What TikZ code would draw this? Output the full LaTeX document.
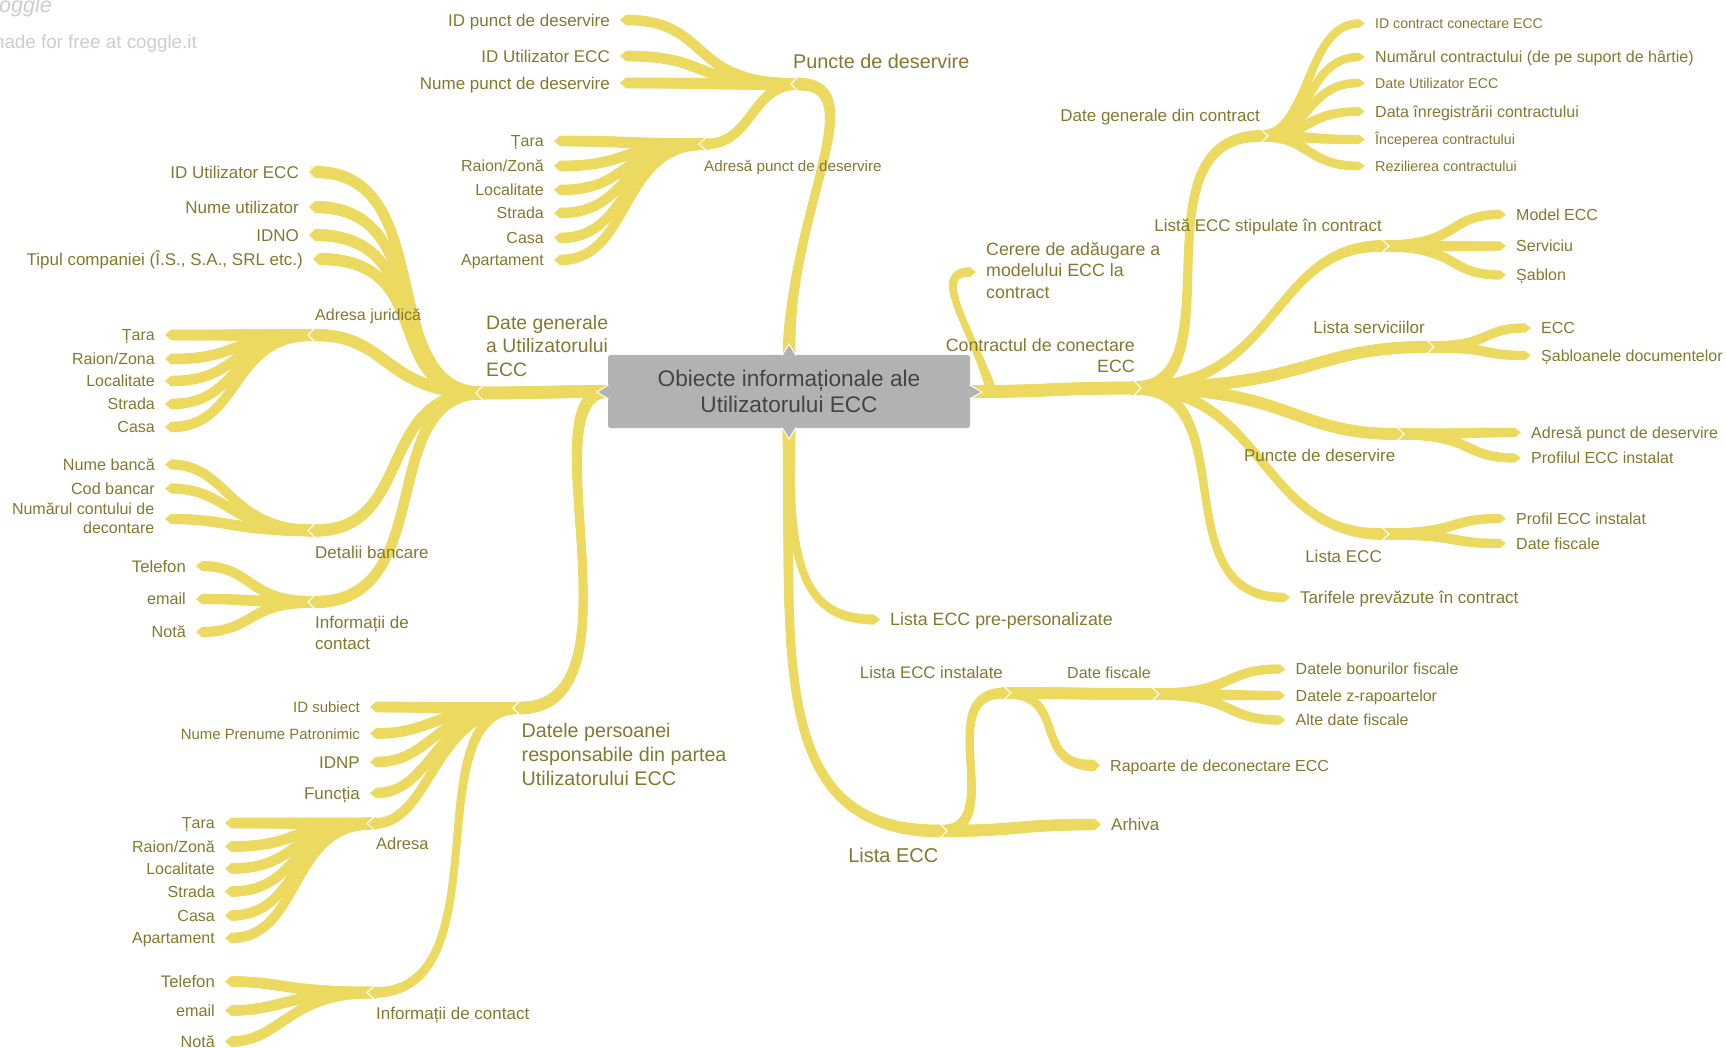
\documentclass[tikz,border=0pt]{standalone}
\usepackage{fontspec}
\setmainfont{Liberation Sans}
\usetikzlibrary{calc,decorations.markings}
\pgfdeclarelayer{bg}\pgfsetlayers{bg,main}
\definecolor{brn}{HTML}{ECD960}
\definecolor{txt}{HTML}{837830}
\definecolor{rootc}{HTML}{B2B2B2}
\definecolor{roott}{HTML}{444444}
\definecolor{wm}{HTML}{CCCCCC}
\newcommand\tapermark{%
 \pgfmathsetmacro\tsv{\pgfkeysvalueof{/pgf/decoration/mark info/distance from start}/\pgfdecoratedpathlength}%
 \pgfmathsetmacro\trv{(\brWa*(1-\tsv)+\brWb*\tsv)/2*(1-\dipv*4*\tsv*(1-\tsv))}%
 \pgfpathcircle{\pgfpointorigin}{\trv pt}\pgfsetfillcolor{brn}\pgfusepath{fill}}
\tikzset{
 taper/.style={draw=brn,postaction={decorate},decoration={markings,mark=between positions 0 and 1 step 2pt with {\tapermark}}},
 lbl/.style={text=txt,inner sep=0pt},
 fz/.style={font=\fontsize{#1}{#1}\selectfont},
 ml/.style={text=txt,inner sep=0pt,font=\pgfmathsetmacro\lsk{#1*1.2}\fontsize{#1}{\lsk}\selectfont},
 rootbox/.style={fill=rootc,rounded corners=2.5pt,minimum width=362pt,minimum height=73pt,inner sep=0pt,text=roott,align=center,font=\fontsize{22.6}{26.5}\selectfont},
 rtip/.style={fill=rootc,draw=white,line width=1pt,line join=miter},
}
% current branch look: start share, end share, width at start, width at end
\newcommand\setbr[4]{\def\brFa{#1}\def\brFb{#2}\def\brWa{#3}\def\brWb{#4}}
\newcommand\brtip[2]{% #1 end, #2 sign
 \pgfmathsetmacro\hw{\brWb/2+.4}%
 \fill[brn] ([yshift=\hw pt]#1) -- ([xshift={#2*7pt}]#1) -- ([yshift=-\hw pt]#1) -- cycle;
 \draw[white,line width=1.1pt] ([yshift={\hw*1.2pt},xshift={-#2*1pt}]#1) -- ([xshift={#2*7pt}]#1) -- ([yshift={-\hw*1.2pt},xshift={-#2*1pt}]#1);
}
\newcommand\getdip{%
 \pgfmathsetmacro\dipv{.3*abs(\by-\ay)/(abs(\bx-\ax)+abs(\by-\ay)+1)}%
 \pgfmathsetmacro\wl{min(\brWa,\brWb)*(1-\dipv)-1}}
\newcommand\br[2]{% parent to child, horizontal tangents
 \path (#1);\pgfgetlastxy{\ax}{\ay}\path (#2);\pgfgetlastxy{\bx}{\by}\getdip
 \pgfmathsetmacro\ca{\ax+\brFa*(\bx-\ax)}\pgfmathsetmacro\cb{\bx-\brFb*(\bx-\ax)}%
 \pgfmathsetmacro\sg{\bx>\ax?1:-1}%
 \draw[taper,line width=\wl pt] (#1) .. controls (\ca pt,\ay) and (\cb pt,\by) .. (#2);
 \brtip{#2}{\sg}}
\newcommand\brc[5]{% parent to child, given controls and tip direction
 \path (#1);\pgfgetlastxy{\ax}{\ay}\path (#2);\pgfgetlastxy{\bx}{\by}\getdip
 \pgfmathsetmacro\dipv{max(\dipv,.28)}\pgfmathsetmacro\wl{min(\brWa,\brWb)*(1-\dipv)-1}%
 \draw[taper,line width=\wl pt] (#1) .. controls #3 and #4 .. (#2);
 \brtip{#2}{#5}}
\newcommand\lfl[5]{\coordinate (#1) at (#2,#3);
 \node[lbl,fz=#4,anchor=east,text height={#4*.74pt},text depth={#4*.2pt}] (#1t) at ($(#1)+(-16,1.5)$) {#5};}
\newcommand\lfr[5]{\coordinate (#1) at (#2,#3);
 \node[lbl,fz=#4,anchor=west,text height={#4*.74pt},text depth={#4*.2pt}] (#1t) at ($(#1)+(16,1.2)$) {#5};}
\begin{document}
\begin{tikzpicture}[x=1pt,y=-1pt]
\useasboundingbox (0,0) rectangle (1726,1048);
\clip (0,0) rectangle (1726,1048);
% watermark
\node[anchor=east,inner sep=0pt,text=wm,font=\fontsize{21.5}{21.5}\selectfont\itshape] (wma) at (52,7) {coggle};
\node[anchor=east,inner sep=0pt,text=wm,font=\fontsize{18.8}{18.8}\selectfont] (wmb) at (197,44) {made for free at coggle.it};
% root
\node[rootbox] (root) at (789,391.5) {Obiecte informaționale ale\\Utilizatorului ECC};
\coordinate (rt) at (789,344); \coordinate (rb) at (789,439);
\coordinate (rl) at (597,392); \coordinate (rr) at (982,392);
\draw[rtip] (782,355.5) -- (rt) -- (796,355.5);
\draw[rtip] (782,427.5) -- (rb) -- (796,427.5);
\draw[rtip] (608.5,385) -- (rl) -- (608.5,399);
\draw[rtip] (969.5,385) -- (rr) -- (969.5,399);
% junctions with their labels
\coordinate (jpd) at (798,84);
\node[lbl,fz=19.8,anchor=west] (jpdt) at (793,61) {Puncte de deservire};
\coordinate (jap) at (706,144);
\node[lbl,fz=15.2,anchor=west] (japt) at (704,167) {Adresă punct de deservire};
\coordinate (jdg) at (483,393);
\node[ml=19.4,anchor=west,align=left] (jdgt) at (486,346) {Date generale\\a Utilizatorului\\ECC};
\coordinate (jaj) at (315,335);
\node[lbl,fz=16,anchor=west] (jajt) at (315,316) {Adresa juridică};
\coordinate (jdb) at (315,530.5);
\node[lbl,fz=17,anchor=west] (jdbt) at (315,552) {Detalii bancare};
\coordinate (jic) at (315,602);
\node[ml=17,anchor=west,align=left] (jict) at (315,633) {Informații de\\contact};
\coordinate (jdp) at (520,708);
\node[ml=19.7,anchor=west,align=left] (jdpt) at (521.5,754.5) {Datele persoanei\\responsabile din partea\\Utilizatorului ECC};
\coordinate (ja) at (374,823.5);
\node[lbl,fz=16.5,anchor=west] (jat) at (376,843.5) {Adresa};
\coordinate (jc) at (374,992.5);
\node[lbl,fz=17,anchor=west] (jct) at (376,1015) {Informații de contact};
\coordinate (jcc) at (1134,388);
\node[ml=17.8,anchor=east,align=right] (jcct) at (1135,355.5) {Contractul de conectare\\ECC};
\coordinate (jgc) at (1261,136);
\node[lbl,fz=17,anchor=east] (jgct) at (1260,117) {Date generale din contract};
\coordinate (jls) at (1382,246);
\node[lbl,fz=16.9,anchor=east] (jlst) at (1382,227.5) {Listă ECC stipulate în contract};
\coordinate (jlse) at (1427,347);
\node[lbl,fz=17,anchor=east] (jlset) at (1425,327) {Lista serviciilor};
\coordinate (jpdv) at (1397,434);
\node[lbl,fz=17,anchor=east] (jpdvt) at (1395.5,455) {Puncte de deservire};
\coordinate (jle) at (1382,534);
\node[lbl,fz=17,anchor=east] (jlet) at (1382,556) {Lista ECC};
\coordinate (jl) at (940,831);
\node[lbl,fz=20,anchor=east] (jlt) at (938.5,855) {Lista ECC};
\coordinate (jli) at (1004,693);
\node[lbl,fz=16.8,anchor=east] (jlit) at (1003,672) {Lista ECC instalate};
\coordinate (jdf) at (1152,694);
\node[lbl,fz=16,anchor=east] (jdft) at (1151,673) {Date fiscale};
\coordinate (cs) at (992,392);
% cerere leaf
\coordinate (cer) at (970,272);
\node[ml=17.8,anchor=west,align=left] (cert) at (986,270.5) {Cerere de adăugare a\\modelului ECC la\\contract};
% leaves
\lfl{a1}{626}{20}{17}{ID punct de deservire}
\lfl{a2}{626}{56}{17}{ID Utilizator ECC}
\lfl{a3}{626}{83}{17}{Nume punct de deservire}
\lfl{b1}{560}{141}{16}{Țara}
\lfl{b2}{560}{166}{16}{Raion/Zonă}
\lfl{b3}{560}{190}{16}{Localitate}
\lfl{b4}{560}{213}{16}{Strada}
\lfl{b5}{560}{238}{16}{Casa}
\lfl{b6}{560}{260}{16}{Apartament}
\lfl{c1}{315}{172}{17}{ID Utilizator ECC}
\lfl{c2}{315}{207}{17}{Nume utilizator}
\lfl{c3}{315}{235}{17}{IDNO}
\lfl{c4}{319}{259}{17}{Tipul companiei (Î.S., S.A., SRL etc.)}
\lfl{d1}{171}{335}{16}{Țara}
\lfl{d2}{171}{359}{16}{Raion/Zona}
\lfl{d3}{171}{381}{16}{Localitate}
\lfl{d4}{171}{404}{16}{Strada}
\lfl{d5}{171}{427}{16}{Casa}
\lfl{e1}{171}{464.5}{16.2}{Nume bancă}
\lfl{e2}{171}{488.5}{16.2}{Cod bancar}
\coordinate (e3) at (171,519);
\node[ml=16,anchor=east,align=right] (e3t) at (154.5,518.5) {Numărul contului de\\decontare};
\lfl{f1}{202}{566}{16.7}{Telefon}
\lfl{f2}{202}{599}{16.2}{email}
\lfl{f3}{202}{632}{16.2}{Notă}
\lfl{g1}{376}{707}{15}{ID subiect}
\lfl{g2}{376}{733.5}{14.9}{Nume Prenume Patronimic}
\lfl{g3}{376}{762}{17}{IDNP}
\lfl{g4}{376}{793}{17}{Funcția}
\lfl{h1}{231}{823}{16}{Țara}
\lfl{h2}{231}{846.5}{16}{Raion/Zonă}
\lfl{h3}{231}{868.5}{16}{Localitate}
\lfl{h4}{231}{891.5}{16}{Strada}
\lfl{h5}{231}{915.5}{16}{Casa}
\lfl{h6}{231}{938}{16}{Apartament}
\lfl{i1}{231}{981.5}{16.7}{Telefon}
\lfl{i2}{231}{1010.5}{16.2}{email}
\lfl{i3}{231}{1041.5}{16.2}{Notă}
\lfr{k1}{1359}{23.5}{14.1}{ID contract conectare ECC}
\lfr{k2}{1359}{57}{16.05}{Numărul contractului (de pe suport de hârtie)}
\lfr{k3}{1359}{83}{14.2}{Date Utilizator ECC}
\lfr{k4}{1359}{111.5}{16}{Data înregistrării contractului}
\lfr{k5}{1359}{139.5}{14.2}{Începerea contractului}
\lfr{k6}{1359}{166}{14.4}{Rezilierea contractului}
\lfr{l1}{1500}{214.5}{16}{Model ECC}
\lfr{l2}{1500}{246}{16}{Serviciu}
\lfr{l3}{1500}{275}{16}{Șablon}
\lfr{m1}{1525}{328}{16}{ECC}
\lfr{m2}{1525}{355.5}{16}{Șabloanele documentelor}
\lfr{n1}{1515}{432.5}{16}{Adresă punct de deservire}
\lfr{n2}{1515}{458}{16}{Profilul ECC instalat}
\lfr{o1}{1500}{518.5}{16}{Profil ECC instalat}
\lfr{o2}{1500}{543.5}{16}{Date fiscale}
\lfr{tar}{1284}{597.5}{17}{Tarifele prevăzute în contract}
\lfr{pre}{874}{619.5}{17.8}{Lista ECC pre-personalizate}
\lfr{ar}{1095}{824.5}{17}{Arhiva}
\lfr{ra}{1094}{765.5}{16}{Rapoarte de deconectare ECC}
\lfr{q1}{1279.5}{669}{16}{Datele bonurilor fiscale}
\lfr{q2}{1279.5}{695.5}{16}{Datele z-rapoartelor}
\lfr{q3}{1279.5}{720}{16}{Alte date fiscale}
\begin{pgfonlayer}{bg}
% deepest fans first, parents drawn after their children
\setbr{.6}{.5}{12}{11}
\br{jap}{b1}\br{jap}{b2}\br{jap}{b3}\br{jap}{b4}\br{jap}{b5}\br{jap}{b6}
\br{jaj}{d1}\br{jaj}{d2}\br{jaj}{d3}\br{jaj}{d4}\br{jaj}{d5}
\br{ja}{h1}\br{ja}{h2}\br{ja}{h3}\br{ja}{h4}\br{ja}{h5}\br{ja}{h6}
\setbr{.6}{.4}{12}{10.5}
\br{jdb}{e1}\br{jdb}{e2}\br{jdb}{e3}
\setbr{.6}{.45}{12}{10.5}
\br{jic}{f1}\br{jic}{f2}\br{jic}{f3}
\setbr{.6}{.35}{12}{11}
\br{jc}{i1}\br{jc}{i2}\br{jc}{i3}
\setbr{.5}{.55}{12}{9}
\br{jgc}{k1}\br{jgc}{k2}\br{jgc}{k3}\br{jgc}{k4}\br{jgc}{k5}\br{jgc}{k6}
\setbr{.65}{.45}{12}{9.5}
\br{jls}{l1}\br{jls}{l2}\br{jls}{l3}
\br{jlse}{m1}\br{jlse}{m2}
\br{jpdv}{n1}\br{jpdv}{n2}
\br{jle}{o1}\br{jle}{o2}
\br{jdf}{q1}\br{jdf}{q2}\br{jdf}{q3}
% second level
\setbr{.65}{.5}{12}{11}
\br{jpd}{a1}\br{jpd}{a2}\br{jpd}{a3}
\setbr{.5}{.5}{12}{11}
\br{jpd}{jap}
\setbr{.65}{.75}{13}{12.5}
\br{jdg}{c1}\br{jdg}{c2}\br{jdg}{c3}\br{jdg}{c4}\br{jdg}{jic}
\setbr{.65}{.6}{13}{12.5}
\br{jdg}{jdb}
\setbr{.6}{.45}{13}{12.5}
\br{jdg}{jaj}
\setbr{.6}{.4}{12}{11}
\br{jdp}{g1}\br{jdp}{g2}\br{jdp}{g3}\br{jdp}{g4}\br{jdp}{ja}
\brc{jdp}{jc}{(412,708)}{(506,992.5)}{-1}
% contract
\setbr{.5}{.5}{14}{12}
\brc{jcc}{jgc}{(1240,388)}{(1130,136)}{1}
\brc{jcc}{jls}{(1280,388)}{(1270,246)}{1}
\brc{jcc}{jle}{(1265,388)}{(1260,534)}{1}
\setbr{.6}{.4}{13}{12}
\br{jcc}{jlse}\br{jcc}{jpdv}
\setbr{.5}{.5}{14}{10}
\brc{jcc}{tar}{(1247,388)}{(1160,597.5)}{1}
% lower part
\setbr{.5}{.5}{12}{12}
\br{jli}{jdf}
\brc{jli}{ra}{(1070,693)}{(1030,765.5)}{1}
\setbr{.5}{.5}{12.5}{11.5}
\brc{jl}{jli}{(1010,831)}{(930,693)}{1}
\br{jl}{ar}
% from the root
\setbr{.5}{.5}{13}{13}
\brc{root.north}{jpd}{(789,210)}{(875,84)}{-1}
\br{root.west}{jdg}
\brc{root.west}{jdp}{(525,392)}{(650,708)}{-1}
\br{root.east}{jcc}
\brc{root.south}{jl}{(789,660)}{(770,831)}{1}
\setbr{.5}{.5}{13}{10.5}
\brc{root.south}{pre}{(789,560)}{(800,619.5)}{1}
\setbr{.5}{.5}{11}{10}
\brc{cs}{cer}{(970,325)}{(930,272)}{1}
\end{pgfonlayer}
\end{tikzpicture}
\end{document}
